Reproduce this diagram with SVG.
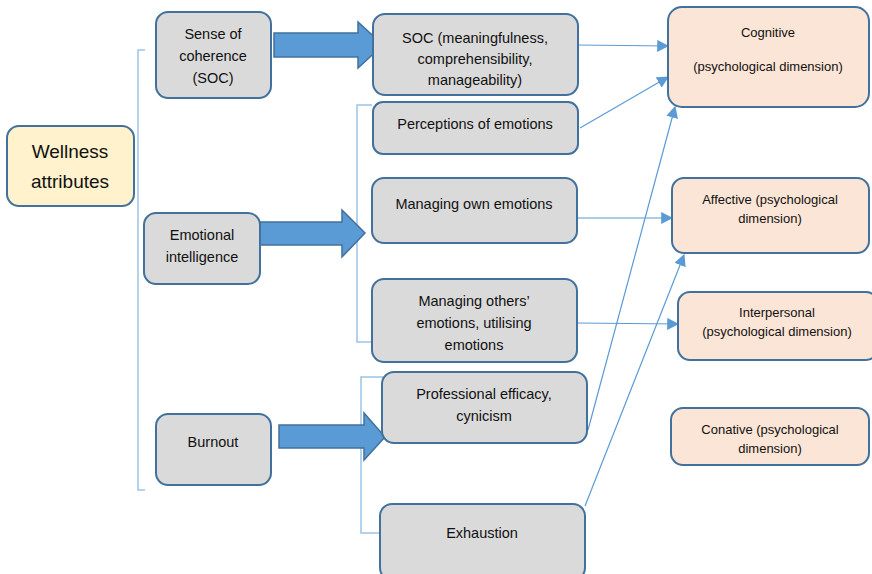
<svg xmlns="http://www.w3.org/2000/svg" width="872" height="574" viewBox="0 0 872 574">
<style>
.box{fill:#dadada;stroke:#41719c;stroke-width:2}
.dim{fill:#fbe5d6;stroke:#41719c;stroke-width:2}
.well{fill:#fff2cc;stroke:#41719c;stroke-width:2}
.big{fill:#5b9bd5;stroke:#41719c;stroke-width:1.5}
.brk{fill:none;stroke:#9dc3e6;stroke-width:1.5}
.con{fill:none;stroke:#5b9bd5;stroke-width:1.2;marker-end:url(#ah)}
text{font-family:"Liberation Sans",Arial,sans-serif;fill:#111;text-anchor:middle}
.t{font-size:14.5px}
.s{font-size:13px}
.w{font-size:19px}
</style>
<defs>
<marker id="ah" viewBox="0 0 10 10" refX="9" refY="5" markerWidth="12" markerHeight="12" markerUnits="userSpaceOnUse" orient="auto">
<path d="M0,0 L10,5 L0,10 z" fill="#5b9bd5"/>
</marker>
</defs>
<g id="brackets">
<path class="brk" d="M145,50 H138 V490 H145"/>
<path class="brk" d="M372,105 H357 V342 H372"/>
<path class="brk" d="M383,377 H361 V533 H380"/>
</g>
<g id="connectors">
<line class="con" x1="578" y1="45" x2="668" y2="46"/>
<line class="con" x1="580" y1="128" x2="668" y2="77"/>
<line class="con" x1="588" y1="430" x2="675" y2="107"/>
<line class="con" x1="577" y1="218" x2="672" y2="218"/>
<line class="con" x1="585" y1="506" x2="684" y2="255"/>
<line class="con" x1="577" y1="323" x2="678" y2="324"/>
</g>
<g id="block-arrows">
<path class="big" d="M274,33 H358 V22 L383,45 L358,68 V57 H274 Z"/>
<path class="big" d="M260,222 H342 V210 L365,233 L342,257 V245 H260 Z"/>
<path class="big" d="M279,425 H364 V413 L385,437 L364,460 V448 H279 Z"/>
</g>
<g id="wellness">
<rect class="well" x="7" y="126" width="127" height="80" rx="12"/>
<text class="w" x="70" y="158">Wellness</text>
<text class="w" x="70" y="188">attributes</text>
</g>
<g id="soc">
<rect class="box" x="156" y="12" width="115" height="86" rx="12"/>
<text class="t" x="213" y="39">Sense of</text>
<text class="t" x="213" y="61">coherence</text>
<text class="t" x="213" y="83">(SOC)</text>
</g>
<g id="ei">
<rect class="box" x="144" y="213" width="116" height="71" rx="12"/>
<text class="t" x="202" y="240">Emotional</text>
<text class="t" x="202" y="262">intelligence</text>
</g>
<g id="burnout">
<rect class="box" x="156" y="414" width="115" height="71" rx="12"/>
<text class="t" x="213" y="447">Burnout</text>
</g>
<g id="soc-detail">
<rect class="box" x="373" y="14" width="205" height="81" rx="12"/>
<text class="t" x="475" y="43">SOC (meaningfulness,</text>
<text class="t" x="475" y="64">comprehensibility,</text>
<text class="t" x="475" y="85">manageability)</text>
</g>
<g id="perceptions">
<rect class="box" x="373" y="102" width="205" height="52" rx="10"/>
<text class="t" x="475" y="129">Perceptions of emotions</text>
</g>
<g id="own">
<rect class="box" x="372" y="178" width="205" height="65" rx="12"/>
<text class="t" x="474" y="209">Managing own emotions</text>
</g>
<g id="others">
<rect class="box" x="372" y="279" width="205" height="83" rx="12"/>
<text class="t" x="474" y="306">Managing others’</text>
<text class="t" x="474" y="328">emotions, utilising</text>
<text class="t" x="474" y="350">emotions</text>
</g>
<g id="efficacy">
<rect class="box" x="382" y="372" width="205" height="71" rx="12"/>
<text class="t" x="484" y="399">Professional efficacy,</text>
<text class="t" x="484" y="421">cynicism</text>
</g>
<g id="exhaustion">
<rect class="box" x="380" y="504" width="205" height="76" rx="12"/>
<text class="t" x="482" y="538">Exhaustion</text>
</g>
<g id="cognitive">
<rect class="dim" x="668" y="7" width="201" height="100" rx="14"/>
<text class="s" x="768" y="37">Cognitive</text>
<text class="s" x="768" y="71">(psychological dimension)</text>
</g>
<g id="affective">
<rect class="dim" x="672" y="178" width="197" height="75" rx="12"/>
<text class="s" x="770" y="204">Affective (psychological</text>
<text class="s" x="770" y="223">dimension)</text>
</g>
<g id="interpersonal">
<rect class="dim" x="678" y="292" width="200" height="68" rx="12"/>
<text class="s" x="777" y="317">Interpersonal</text>
<text class="s" x="777" y="336">(psychological dimension)</text>
</g>
<g id="conative">
<rect class="dim" x="671" y="408" width="198" height="57" rx="12"/>
<text class="s" x="770" y="434">Conative (psychological</text>
<text class="s" x="770" y="453">dimension)</text>
</g>
</svg>
